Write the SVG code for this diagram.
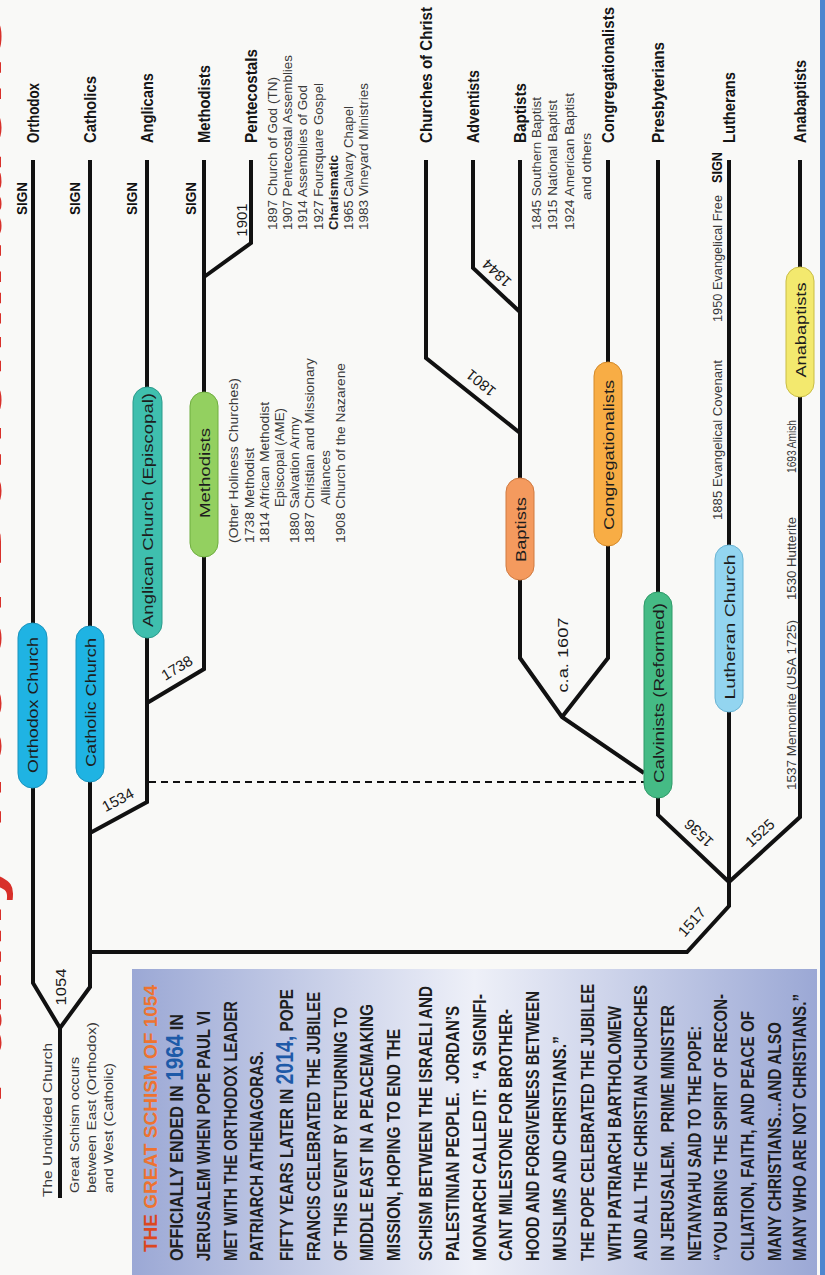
<svg xmlns="http://www.w3.org/2000/svg" width="825" height="1275" viewBox="0 0 825 1275">
<defs>
<linearGradient id="boxg" x1="132" y1="0" x2="817" y2="0" gradientUnits="userSpaceOnUse">
<stop offset="0" stop-color="#9ba8d5"/>
<stop offset="0.5" stop-color="#eef0f8"/>
<stop offset="1" stop-color="#9ba8d5"/>
</linearGradient>
<style>
.ln{fill:none;stroke:#111;stroke-width:4;stroke-linejoin:miter;stroke-miterlimit:10}
.dash{fill:none;stroke:#111;stroke-width:2.2;stroke-dasharray:7 5}
text{font-family:"Liberation Sans Narrow","Liberation Sans",Arial,sans-serif}
.top{font-size:16px;font-weight:bold;fill:#151515}
.pl{font-size:15px;fill:#1d1d1d;text-anchor:middle}
.sm{font-size:12px;fill:#3a3a3a}
.smb{font-size:12px;font-weight:bold;fill:#222}
.sign{font-size:14px;font-weight:bold;fill:#111}
.yr{font-size:15px;fill:#1a1a1a;text-anchor:middle}
.bx{font-size:18px;font-weight:bold;fill:#1e1e1e}
.hd{fill:#ee7330}
.hd0{fill:#dc471f}
.bl{fill:#1e5aa8;font-size:23px}
.ttl{font-size:60px;font-weight:bold;fill:#d8302a}
.pill{stroke-width:1}
</style>
</defs>
<rect x="0" y="0" width="825" height="1275" fill="#f9f9f7"/>
<rect x="820" y="0" width="5" height="1275" fill="#4d86cf"/>

<text class="ttl" transform="translate(1 1104) rotate(-90)" textLength="1089" lengthAdjust="spacingAndGlyphs">Family Tree of Denominations</text>

<g id="connectors">
<path class="ln" d="M33 160V623M33 788V983L60 1028V1198"/>
<path class="ln" d="M90 160V626M90 782V987L60 1028"/>
<path class="ln" d="M90 952H687L729 906V882"/>
<path class="ln" d="M729 160V545M729 712V882"/>
<path class="ln" d="M729 882L658 815V798M658 592V160"/>
<path class="ln" d="M729 882L800 817V397M800 267V160"/>
<path class="ln" d="M644 773L562 717L520 658V580M562 717L608 658V546M608 362V160"/>
<path class="ln" d="M520 478V160M520 433L426 358V160M520 312L473 268V160"/>
<path class="ln" d="M90 833L147 802V638M147 387V160M147 703L204 669V557M204 392V160M204 277L251 243V160"/>
<path class="dash" d="M149 782H644"/>
</g>

<g id="years">
<text class="yr" transform="translate(66 987) rotate(-90)" textLength="37" lengthAdjust="spacingAndGlyphs">1054</text>
<text class="yr" transform="translate(118 800) rotate(-28)" y="5">1534</text>
<text class="yr" transform="translate(177 668) rotate(-31)" y="5">1738</text>
<text class="yr" transform="translate(247 220) rotate(-90)">1901</text>
<text class="yr" transform="translate(481 383) rotate(-141)" y="5">1801</text>
<text class="yr" transform="translate(497 273) rotate(-137)" y="5">1844</text>
<text class="yr" transform="translate(699 833) rotate(-137)" y="5">1536</text>
<text class="yr" transform="translate(760 833) rotate(-42)" y="5">1525</text>
<text class="yr" transform="translate(692 922) rotate(-49)" y="5">1517</text>
<text class="yr" transform="translate(568 655) rotate(-90)" textLength="75" lengthAdjust="spacingAndGlyphs">c.a. 1607</text>
</g>

<g id="node-orthodox">
<rect class="pill" x="18" y="623" width="29" height="165" rx="14.5" fill="#1fb3e3" stroke="#1a93bd"/>
<text class="pl" transform="translate(38 705) rotate(-90)" textLength="136" lengthAdjust="spacingAndGlyphs">Orthodox Church</text>
<text class="top" transform="translate(39 143) rotate(-90)" textLength="60" lengthAdjust="spacingAndGlyphs">Orthodox</text>
<text class="sign" transform="translate(27 215) rotate(-90)" textLength="33" lengthAdjust="spacingAndGlyphs">SIGN</text>
</g>
<g id="node-catholic">
<rect class="pill" x="76" y="626" width="28" height="156" rx="14" fill="#1fb3e3" stroke="#1a93bd"/>
<text class="pl" transform="translate(95.5 702.5) rotate(-90)" textLength="129" lengthAdjust="spacingAndGlyphs">Catholic Church</text>
<text class="top" transform="translate(96 143) rotate(-90)" textLength="67" lengthAdjust="spacingAndGlyphs">Catholics</text>
<text class="sign" transform="translate(80 215) rotate(-90)" textLength="33" lengthAdjust="spacingAndGlyphs">SIGN</text>
</g>
<g id="node-anglican">
<rect class="pill" x="133" y="387" width="29" height="251" rx="14.5" fill="#3fbfae" stroke="#2a9a8a"/>
<text class="pl" transform="translate(153 510) rotate(-90)" textLength="234" lengthAdjust="spacingAndGlyphs">Anglican Church (Episcopal)</text>
<text class="top" transform="translate(153 143) rotate(-90)" textLength="70" lengthAdjust="spacingAndGlyphs">Anglicans</text>
<text class="sign" transform="translate(137 215) rotate(-90)" textLength="33" lengthAdjust="spacingAndGlyphs">SIGN</text>
</g>
<g id="node-methodists">
<rect class="pill" x="190" y="392" width="28" height="165" rx="14" fill="#93d060" stroke="#6fae3f"/>
<text class="pl" transform="translate(209.5 473) rotate(-90)" textLength="90" lengthAdjust="spacingAndGlyphs">Methodists</text>
<text class="top" transform="translate(210 143) rotate(-90)" textLength="78" lengthAdjust="spacingAndGlyphs">Methodists</text>
<text class="sign" transform="translate(196 215) rotate(-90)" textLength="33" lengthAdjust="spacingAndGlyphs">SIGN</text>
<text class="sm" transform="translate(238 543) rotate(-90)" textLength="165" lengthAdjust="spacingAndGlyphs">(Other Holiness Churches)</text>
<text class="sm" transform="translate(254 543) rotate(-90)" textLength="95" lengthAdjust="spacingAndGlyphs">1738 Methodist</text>
<text class="sm" transform="translate(269 543) rotate(-90)" textLength="141" lengthAdjust="spacingAndGlyphs">1814 African Methodist</text>
<text class="sm" transform="translate(284 507) rotate(-90)" textLength="99" lengthAdjust="spacingAndGlyphs">Episcopal (AME)</text>
<text class="sm" transform="translate(299 543) rotate(-90)" textLength="126" lengthAdjust="spacingAndGlyphs">1880 Salvation Army</text>
<text class="sm" transform="translate(314 543) rotate(-90)" textLength="185" lengthAdjust="spacingAndGlyphs">1887 Christian and Missionary</text>
<text class="sm" transform="translate(330 505) rotate(-90)" textLength="55" lengthAdjust="spacingAndGlyphs">Alliances</text>
<text class="sm" transform="translate(345 543) rotate(-90)" textLength="180" lengthAdjust="spacingAndGlyphs">1908 Church of the Nazarene</text>
</g>
<g id="node-pentecostals">
<text class="top" transform="translate(257 143) rotate(-90)" textLength="94" lengthAdjust="spacingAndGlyphs">Pentecostals</text>
<text class="sm" transform="translate(277 230) rotate(-90)" textLength="153" lengthAdjust="spacingAndGlyphs">1897 Church of God (TN)</text>
<text class="sm" transform="translate(292 230) rotate(-90)" textLength="175" lengthAdjust="spacingAndGlyphs">1907 Pentecostal Assemblies</text>
<text class="sm" transform="translate(307 230) rotate(-90)" textLength="145" lengthAdjust="spacingAndGlyphs">1914 Assemblies of God</text>
<text class="sm" transform="translate(323 230) rotate(-90)" textLength="147" lengthAdjust="spacingAndGlyphs">1927 Foursquare Gospel</text>
<text class="smb" transform="translate(338 230) rotate(-90)" textLength="75" lengthAdjust="spacingAndGlyphs">Charismatic</text>
<text class="sm" transform="translate(353 230) rotate(-90)" textLength="124" lengthAdjust="spacingAndGlyphs">1965 Calvary Chapel</text>
<text class="sm" transform="translate(368 230) rotate(-90)" textLength="147" lengthAdjust="spacingAndGlyphs">1983 Vineyard Ministries</text>
</g>
<g id="node-churches-of-christ">
<text class="top" transform="translate(432 143) rotate(-90)" textLength="136" lengthAdjust="spacingAndGlyphs">Churches of Christ</text>
</g>
<g id="node-adventists">
<text class="top" transform="translate(479 143) rotate(-90)" textLength="73" lengthAdjust="spacingAndGlyphs">Adventists</text>
</g>
<g id="node-baptists">
<rect class="pill" x="506" y="478" width="28" height="102" rx="14" fill="#f49a5e" stroke="#d07a40"/>
<text class="pl" transform="translate(525.5 529.5) rotate(-90)" textLength="65" lengthAdjust="spacingAndGlyphs">Baptists</text>
<text class="top" transform="translate(526 143) rotate(-90)" textLength="60" lengthAdjust="spacingAndGlyphs">Baptists</text>
<text class="sm" transform="translate(541 230) rotate(-90)" textLength="133" lengthAdjust="spacingAndGlyphs">1845 Southern Baptist</text>
<text class="sm" transform="translate(557 230) rotate(-90)" textLength="130" lengthAdjust="spacingAndGlyphs">1915 National Baptist</text>
<text class="sm" transform="translate(574 230) rotate(-90)" textLength="137" lengthAdjust="spacingAndGlyphs">1924 American Baptist</text>
<text class="sm" transform="translate(591 200) rotate(-90)" textLength="67" lengthAdjust="spacingAndGlyphs">and others</text>
</g>
<g id="node-congregationalists">
<rect class="pill" x="594" y="362" width="28" height="184" rx="14" fill="#f8ad45" stroke="#d48a2a"/>
<text class="pl" transform="translate(613.5 455) rotate(-90)" textLength="150" lengthAdjust="spacingAndGlyphs">Congregationalists</text>
<text class="top" transform="translate(614 143) rotate(-90)" textLength="136" lengthAdjust="spacingAndGlyphs">Congregationalists</text>
</g>
<g id="node-calvinists">
<rect class="pill" x="644" y="592" width="28" height="206" rx="14" fill="#45bb85" stroke="#2f9a68"/>
<text class="pl" transform="translate(663.5 693) rotate(-90)" textLength="180" lengthAdjust="spacingAndGlyphs">Calvinists (Reformed)</text>
<text class="top" transform="translate(664 143) rotate(-90)" textLength="101" lengthAdjust="spacingAndGlyphs">Presbyterians</text>
</g>
<g id="node-lutheran">
<rect class="pill" x="715" y="545" width="28" height="167" rx="14" fill="#93d5f0" stroke="#6ab4d4"/>
<text class="pl" transform="translate(734.5 627) rotate(-90)" textLength="145" lengthAdjust="spacingAndGlyphs">Lutheran Church</text>
<text class="top" transform="translate(735 143) rotate(-90)" textLength="71" lengthAdjust="spacingAndGlyphs">Lutherans</text>
<text class="sign" transform="translate(722 183) rotate(-90)" textLength="31" lengthAdjust="spacingAndGlyphs">SIGN</text>
<text class="sm" transform="translate(722 520) rotate(-90)" textLength="160" lengthAdjust="spacingAndGlyphs">1885 Evangelical Covenant</text>
<text class="sm" transform="translate(722 322) rotate(-90)" textLength="127" lengthAdjust="spacingAndGlyphs">1950 Evangelical Free</text>
</g>
<g id="node-anabaptists">
<rect class="pill" x="786" y="267" width="28" height="130" rx="14" fill="#f3e96e" stroke="#c9bd45"/>
<text class="pl" transform="translate(805.5 330) rotate(-90)" textLength="95" lengthAdjust="spacingAndGlyphs">Anabaptists</text>
<text class="top" transform="translate(806 143) rotate(-90)" textLength="83" lengthAdjust="spacingAndGlyphs">Anabaptists</text>
<text class="sm" transform="translate(796 790) rotate(-90)" textLength="170" lengthAdjust="spacingAndGlyphs">1537 Mennonite (USA 1725)</text>
<text class="sm" transform="translate(796 600) rotate(-90)" textLength="83" lengthAdjust="spacingAndGlyphs">1530 Hutterite</text>
<text class="sm" transform="translate(796 473) rotate(-90)" textLength="53" lengthAdjust="spacingAndGlyphs">1693 Amish</text>
</g>
<g id="node-undivided">
<text class="sm" style="font-size:13px" transform="translate(52 1197) rotate(-90)" textLength="154" lengthAdjust="spacingAndGlyphs">The Undivided Church</text>
<text class="sm" style="font-size:13px" transform="translate(79 1193) rotate(-90)" textLength="136" lengthAdjust="spacingAndGlyphs">Great Schism occurs</text>
<text class="sm" style="font-size:13px" transform="translate(96 1193) rotate(-90)" textLength="171" lengthAdjust="spacingAndGlyphs">between East (Orthodox)</text>
<text class="sm" style="font-size:13px" transform="translate(113 1193) rotate(-90)" textLength="130" lengthAdjust="spacingAndGlyphs">and West (Catholic)</text>
</g>

<g id="schism-box">
<rect x="132" y="969" width="685" height="306" fill="url(#boxg)"/>
<text class="bx" transform="translate(157 1252) rotate(-90)" textLength="267" lengthAdjust="spacingAndGlyphs"><tspan class="hd0">THE </tspan><tspan class="hd">GREAT SCHISM OF 1054</tspan></text>
<text class="bx" transform="translate(183 1261) rotate(-90)" textLength="247" lengthAdjust="spacingAndGlyphs">OFFICIALLY ENDED IN <tspan class="bl">1964</tspan> IN</text>
<text class="bx" transform="translate(210 1261) rotate(-90)" textLength="250" lengthAdjust="spacingAndGlyphs">JERUSALEM WHEN POPE PAUL VI</text>
<text class="bx" transform="translate(237 1261) rotate(-90)" textLength="260" lengthAdjust="spacingAndGlyphs">MET WITH THE ORTHODOX LEADER</text>
<text class="bx" transform="translate(263 1261) rotate(-90)" textLength="210" lengthAdjust="spacingAndGlyphs">PATRIARCH ATHENAGORAS.</text>
<text class="bx" transform="translate(293 1261) rotate(-90)" textLength="272" lengthAdjust="spacingAndGlyphs">FIFTY YEARS LATER IN <tspan class="bl">2014,</tspan> POPE</text>
<text class="bx" transform="translate(320 1261) rotate(-90)" textLength="269" lengthAdjust="spacingAndGlyphs">FRANCIS CELEBRATED THE JUBILEE</text>
<text class="bx" transform="translate(347 1261) rotate(-90)" textLength="254" lengthAdjust="spacingAndGlyphs">OF THIS EVENT BY RETURNING TO</text>
<text class="bx" transform="translate(373 1261) rotate(-90)" textLength="257" lengthAdjust="spacingAndGlyphs">MIDDLE EAST IN A PEACEMAKING</text>
<text class="bx" transform="translate(400 1261) rotate(-90)" textLength="232" lengthAdjust="spacingAndGlyphs">MISSION, HOPING TO END THE</text>
<text class="bx" transform="translate(432 1261) rotate(-90)" textLength="275" lengthAdjust="spacingAndGlyphs">SCHISM BETWEEN THE ISRAELI AND</text>
<text class="bx" transform="translate(459 1261) rotate(-90)" textLength="255" lengthAdjust="spacingAndGlyphs">PALESTINIAN PEOPLE.&#160; JORDAN’S</text>
<text class="bx" transform="translate(486 1261) rotate(-90)" textLength="267" lengthAdjust="spacingAndGlyphs">MONARCH CALLED IT:&#160; “A SIGNIFI-</text>
<text class="bx" transform="translate(512 1261) rotate(-90)" textLength="252" lengthAdjust="spacingAndGlyphs">CANT MILESTONE FOR BROTHER-</text>
<text class="bx" transform="translate(539 1261) rotate(-90)" textLength="270" lengthAdjust="spacingAndGlyphs">HOOD AND FORGIVENESS BETWEEN</text>
<text class="bx" transform="translate(566 1261) rotate(-90)" textLength="225" lengthAdjust="spacingAndGlyphs">MUSLIMS AND CHRISTIANS.”</text>
<text class="bx" transform="translate(594 1261) rotate(-90)" textLength="277" lengthAdjust="spacingAndGlyphs">THE POPE CELEBRATED THE JUBILEE</text>
<text class="bx" transform="translate(621 1261) rotate(-90)" textLength="255" lengthAdjust="spacingAndGlyphs">WITH PATRIARCH BARTHOLOMEW</text>
<text class="bx" transform="translate(647 1261) rotate(-90)" textLength="276" lengthAdjust="spacingAndGlyphs">AND ALL THE CHRISTIAN CHURCHES</text>
<text class="bx" transform="translate(674 1261) rotate(-90)" textLength="256" lengthAdjust="spacingAndGlyphs">IN JERUSALEM.&#160; PRIME MINISTER</text>
<text class="bx" transform="translate(701 1261) rotate(-90)" textLength="235" lengthAdjust="spacingAndGlyphs">NETANYAHU SAID TO THE POPE:</text>
<text class="bx" transform="translate(727 1261) rotate(-90)" textLength="267" lengthAdjust="spacingAndGlyphs">“YOU BRING THE SPIRIT OF RECON-</text>
<text class="bx" transform="translate(754 1261) rotate(-90)" textLength="250" lengthAdjust="spacingAndGlyphs">CILIATION, FAITH, AND PEACE OF</text>
<text class="bx" transform="translate(781 1261) rotate(-90)" textLength="239" lengthAdjust="spacingAndGlyphs">MANY CHRISTIANS…AND ALSO</text>
<text class="bx" transform="translate(806 1261) rotate(-90)" textLength="267" lengthAdjust="spacingAndGlyphs">MANY WHO ARE NOT CHRISTIANS.”</text>
</g>
</svg>
